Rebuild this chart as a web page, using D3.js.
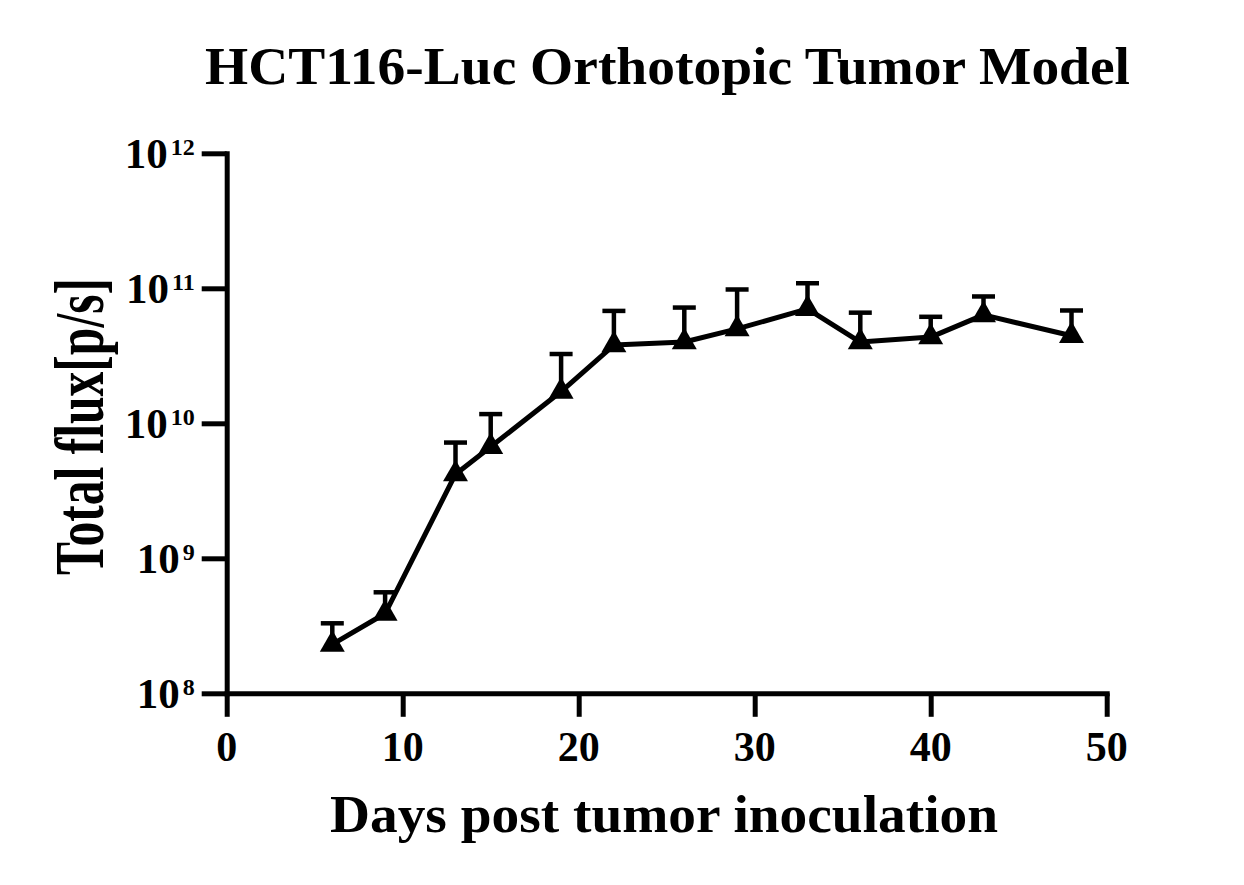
<!DOCTYPE html>
<html lang="en">
<head>
    <meta charset="UTF-8">
    <title>HCT116-Luc Orthotopic Tumor Model</title>
    <script src="https://d3js.org/d3.v7.min.js"></script>
    <style>
        body {
            margin: 0;
            background: #fff;
        }
        text {
            font-family: "Liberation Serif", "Times New Roman", serif;
            font-weight: bold;
            fill: #000;
        }
    </style>
</head>
<body>
    <div id="chart"></div>

    <script>
        // Days after inoculation, mean total flux and SEM (upper bar only)
        const days = [6, 9, 13, 15, 19, 22, 26, 29, 33, 36, 40, 43, 48];
        const meanFlux = [2.3e8, 3.9e8, 4.2e9, 6.7e9, 1.72e10, 3.8e10, 4.0e10, 5.0e10, 7.05e10, 4.0e10, 4.35e10, 6.35e10, 4.45e10];
        const semFlux = [1.0e8, 1.7e8, 3.0e9, 5.0e9, 1.54e10, 3.0e10, 3.2e10, 4.8e10, 3.85e10, 2.6e10, 1.8e10, 2.35e10, 2.4e10];

        const xTicks = [0, 10, 20, 30, 40, 50];
        const yTicks = [1e8, 1e9, 1e10, 1e11, 1e12];
        const yTickExp = ["8", "9", "10", "11", "12"];

        const title = "HCT116-Luc Orthotopic Tumor Model";
        const xTitle = "Days post tumor inoculation";
        const yTitle = "Total flux[p/s]";

        const width = 1244;
        const height = 885;
        const margin = { top: 153.3, right: 137.3, bottom: 191.7, left: 226.7 };
        const innerW = width - margin.left - margin.right;
        const innerH = height - margin.top - margin.bottom;

        const svg = d3.select("#chart")
            .append("svg")
            .attr("width", width)
            .attr("height", height);

        const g = svg.append("g")
            .attr("transform", `translate(${margin.left},${margin.top})`);

        const x = d3.scaleLinear().domain([0, 50]).range([0, innerW]);
        const y = d3.scaleLog().domain([1e8, 1e12]).range([innerH, 0]);

        // Axes
        const xAxis = g.append("g")
            .attr("transform", `translate(0,${innerH})`)
            .call(d3.axisBottom(x).tickValues(xTicks).tickSize(23.5).tickSizeOuter(0).tickFormat(""));

        const yAxis = g.append("g")
            .call(d3.axisLeft(y).tickValues(yTicks).tickSize(25).tickSizeOuter(0).tickFormat(""));

        [xAxis, yAxis].forEach(a => {
            a.select(".domain").attr("stroke", "#000").attr("stroke-width", 5).attr("stroke-linecap", "square");
            a.selectAll(".tick line").attr("stroke", "#000").attr("stroke-width", 5);
        });

        // X tick labels
        g.selectAll(".xlab")
            .data(xTicks)
            .enter()
            .append("text")
            .attr("x", d => x(d))
            .attr("y", innerH + 68)
            .attr("text-anchor", "middle")
            .style("font-size", "42px")
            .text(d => d);

        // Y tick labels: 10 with superscript exponent
        const ylab = g.selectAll(".ylab")
            .data(yTicks)
            .enter()
            .append("text")
            .attr("x", -32)
            .attr("y", d => y(d) + 14.5)
            .attr("text-anchor", "end");
        ylab.append("tspan")
            .style("font-size", "43px")
            .text("10");
        ylab.append("tspan")
            .attr("dx", 3)
            .attr("dy", -13)
            .style("font-size", "24px")
            .text((d, i) => yTickExp[i]);

        // Error bars (upper only)
        const capW = 23;
        const err = g.selectAll(".err")
            .data(days)
            .enter()
            .append("g");
        err.append("line")
            .attr("x1", d => x(d))
            .attr("x2", d => x(d))
            .attr("y1", (d, i) => y(meanFlux[i]))
            .attr("y2", (d, i) => y(meanFlux[i] + semFlux[i]))
            .attr("stroke", "#000")
            .attr("stroke-width", 4.5);
        err.append("line")
            .attr("x1", d => x(d) - capW / 2)
            .attr("x2", d => x(d) + capW / 2)
            .attr("y1", (d, i) => y(meanFlux[i] + semFlux[i]))
            .attr("y2", (d, i) => y(meanFlux[i] + semFlux[i]))
            .attr("stroke", "#000")
            .attr("stroke-width", 4.5);

        // Mean line
        const line = d3.line()
            .x(d => x(d[0]))
            .y(d => y(d[1]));
        g.append("path")
            .datum(days.map((d, i) => [d, meanFlux[i]]))
            .attr("d", line)
            .attr("fill", "none")
            .attr("stroke", "#000")
            .attr("stroke-width", 5)
            .attr("stroke-linejoin", "round");

        // Triangle markers
        g.selectAll(".pt")
            .data(days)
            .enter()
            .append("path")
            .attr("d", d3.symbol(d3.symbolTriangle, 270))
            .attr("transform", (d, i) => `translate(${x(d)},${y(meanFlux[i])})`)
            .attr("fill", "#000");

        // Titles
        svg.append("text")
            .attr("x", 667.5)
            .attr("y", 84)
            .attr("text-anchor", "middle")
            .attr("textLength", 925)
            .attr("lengthAdjust", "spacingAndGlyphs")
            .style("font-size", "52px")
            .text(title);

        svg.append("text")
            .attr("x", 664)
            .attr("y", 831.5)
            .attr("text-anchor", "middle")
            .attr("textLength", 668)
            .attr("lengthAdjust", "spacingAndGlyphs")
            .style("font-size", "52px")
            .text(xTitle);

        svg.append("text")
            .attr("transform", "translate(103,426.5) rotate(-90)")
            .attr("text-anchor", "middle")
            .attr("textLength", 297)
            .attr("lengthAdjust", "spacingAndGlyphs")
            .style("font-size", "70px")
            .text(yTitle);
    </script>
</body>
</html>
